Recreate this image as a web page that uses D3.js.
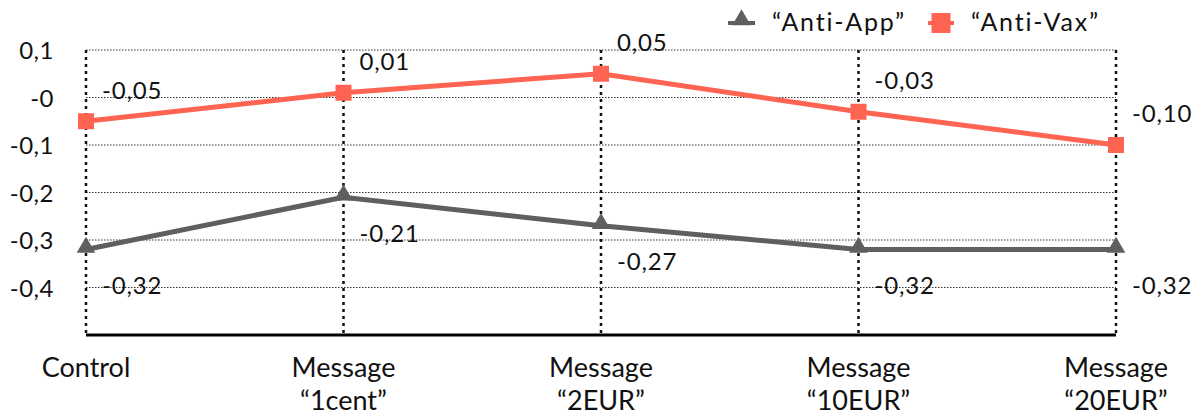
<!DOCTYPE html>
<html><head><meta charset="utf-8">
<script src="https://cdn.jsdelivr.net/npm/d3@7"></script>
<style>
body{margin:0;background:#fff;}
text{font-family:Lato,"Open Sans",sans-serif;fill:#111;}
</style></head>
<body><svg id="c" width="1197" height="416"></svg>
<script>
const categories = ["Control", "Message\n“1cent”", "Message\n“2EUR”", "Message\n“10EUR”", "Message\n“20EUR”"];
const antiApp = [-0.32, -0.21, -0.27, -0.32, -0.32];
const antiVax = [-0.05, 0.01, 0.05, -0.03, -0.10];
const seriesNames = ["“Anti-App”", "“Anti-Vax”"];
const yTicks = [0.1, 0, -0.1, -0.2, -0.3, -0.4];
const yTickLabels = ["0,1", "-0", "-0,1", "-0,2", "-0,3", "-0,4"];

const svg = d3.select("#c");
const x = d3.scalePoint().domain(d3.range(categories.length)).range([86, 1116]);
const y = d3.scaleLinear().domain([-0.5, 0.1]).range([335, 50]);
const fmt = v => v.toFixed(2).replace(".", ",");

// horizontal dotted gridlines
svg.append("g").selectAll("line").data(yTicks).join("line")
  .attr("x1", 86).attr("x2", 1116)
  .attr("y1", d => y(d)).attr("y2", d => y(d))
  .attr("stroke", "#333").attr("stroke-width", 1).attr("stroke-dasharray", "1.5,1.5");

// vertical dotted lines
svg.append("g").selectAll("line").data(categories).join("line")
  .attr("x1", (d, i) => x(i)).attr("x2", (d, i) => x(i))
  .attr("y1", y(0.1)).attr("y2", y(-0.5))
  .attr("stroke", "#111").attr("stroke-width", 2.5).attr("stroke-dasharray", "3,4");

// baseline
svg.append("line").attr("x1", 86).attr("x2", 1116)
  .attr("y1", y(-0.5)).attr("y2", y(-0.5))
  .attr("stroke", "#000").attr("stroke-width", 3);

// y tick labels
svg.append("g").selectAll("text").data(yTicks).join("text")
  .attr("x", 54).attr("y", d => y(d) + 1).attr("dy", "0.35em")
  .attr("text-anchor", "end").attr("font-size", 24).attr("letter-spacing", 0.5)
  .text((d, i) => yTickLabels[i]);

// x labels
const xl = svg.append("g").selectAll("text").data(categories).join("text")
  .attr("x", (d, i) => x(i)).attr("y", 377)
  .attr("text-anchor", "middle").attr("font-size", 27);
xl.each(function(d, i) {
  const lines = d.split("\n");
  const t = d3.select(this);
  lines.forEach((l, j) => t.append("tspan").attr("x", x(i)).attr("dy", j === 0 ? 0 : 33).text(l));
});

const colApp = "#5f5f5f", colVax = "#ff6452";
const line = d3.line().x((d, i) => x(i)).y(d => y(d));

svg.append("path").datum(antiApp).attr("d", line)
  .attr("fill", "none").attr("stroke", colApp).attr("stroke-width", 5);
svg.append("path").datum(antiVax).attr("d", line)
  .attr("fill", "none").attr("stroke", colVax).attr("stroke-width", 5);

const tri = d3.symbol().type(d3.symbolTriangle).size(150);
svg.append("g").selectAll("path").data(antiApp).join("path")
  .attr("d", tri).attr("transform", (d, i) => `translate(${x(i)},${y(d) - 2})`)
  .attr("fill", colApp);
svg.append("g").selectAll("rect").data(antiVax).join("rect")
  .attr("x", (d, i) => x(i) - 8).attr("y", d => y(d) - 8)
  .attr("width", 16).attr("height", 16).attr("fill", colVax);

// data labels
svg.append("g").selectAll("text").data(antiVax).join("text")
  .attr("x", (d, i) => x(i) + 16).attr("y", d => y(d) - 31).attr("dy", "0.35em")
  .attr("font-size", 24).attr("letter-spacing", 0.8).text(fmt);
svg.append("g").selectAll("text").data(antiApp).join("text")
  .attr("x", (d, i) => x(i) + 16).attr("y", d => y(d) + 36).attr("dy", "0.35em")
  .attr("font-size", 24).attr("letter-spacing", 0.8).text(fmt);

// legend
const lg = svg.append("g");
lg.append("line").attr("x1", 728).attr("x2", 755).attr("y1", 23).attr("y2", 23)
  .attr("stroke", colApp).attr("stroke-width", 4);
lg.append("path").attr("d", tri).attr("transform", "translate(741.5,20)").attr("fill", colApp);
lg.append("text").attr("x", 772).attr("y", 22).attr("dy", "0.35em").attr("font-size", 25)
  .attr("letter-spacing", 1.8).text(seriesNames[0]);
lg.append("line").attr("x1", 928).attr("x2", 954).attr("y1", 23).attr("y2", 23)
  .attr("stroke", colVax).attr("stroke-width", 4);
lg.append("rect").attr("x", 931.5).attr("y", 13).attr("width", 19).attr("height", 20).attr("fill", colVax);
lg.append("text").attr("x", 971).attr("y", 22).attr("dy", "0.35em").attr("font-size", 25)
  .attr("letter-spacing", 1.8).text(seriesNames[1]);
</script></body></html>
